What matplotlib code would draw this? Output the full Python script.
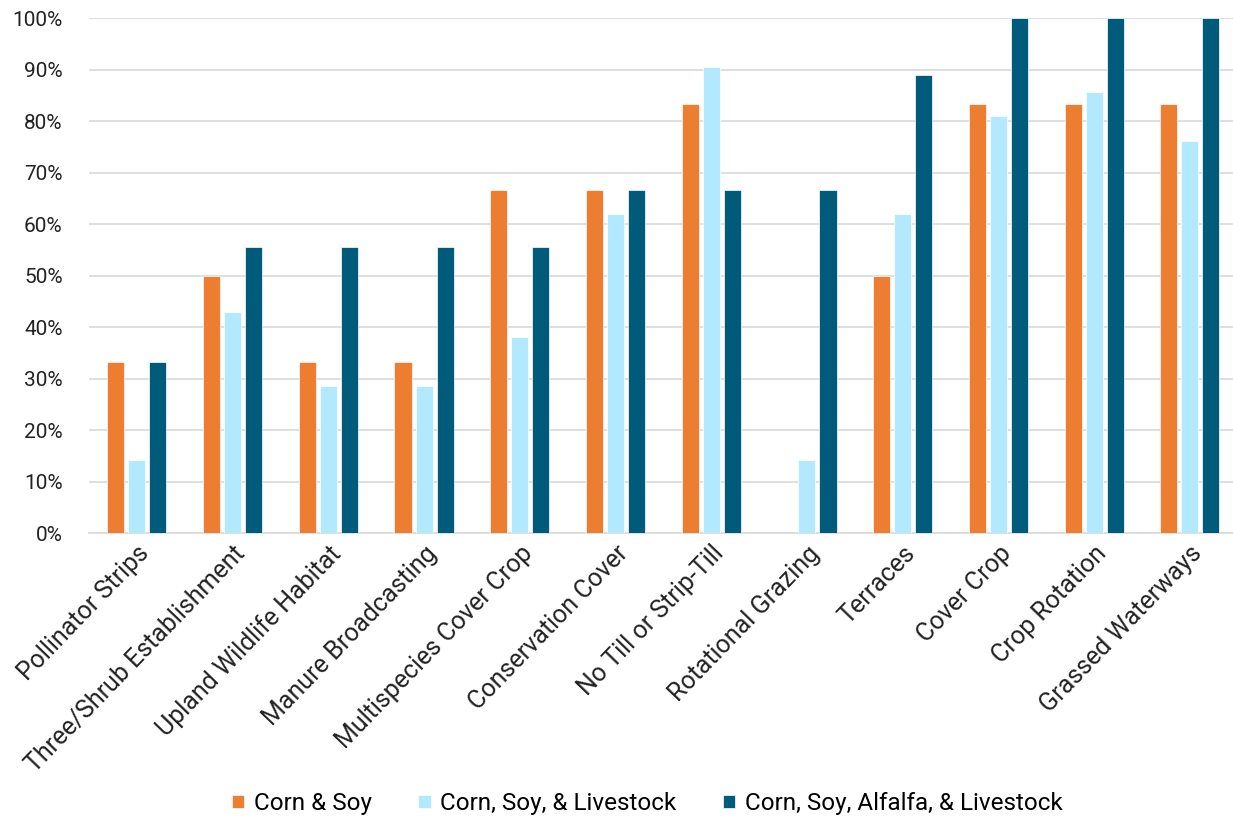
import matplotlib.pyplot as plt
import numpy as np
from matplotlib.ticker import PercentFormatter

plt.rcParams['font.family'] = ['Roboto', 'DejaVu Sans']

practices = ['Pollinator Strips', 'Three/Shrub Establishment', 'Upland Wildlife Habitat',
             'Manure Broadcasting', 'Multispecies Cover Crop', 'Conservation Cover',
             'No Till or Strip-Till', 'Rotational Grazing', 'Terraces', 'Cover Crop',
             'Crop Rotation', 'Grassed Waterways']

corn_soy = [33.3, 50.0, 33.3, 33.3, 66.7, 66.7, 83.3, 0.0, 50.0, 83.3, 83.3, 83.3]
corn_soy_livestock = [14.3, 42.9, 28.6, 28.6, 38.1, 61.9, 90.5, 14.3, 61.9, 81.0, 85.7, 76.2]
corn_soy_alfalfa_livestock = [33.3, 55.6, 55.6, 55.6, 55.6, 66.7, 66.7, 66.7, 88.9, 100.0, 100.0, 100.0]

series = [
    ('Corn & Soy', corn_soy, '#ED7D31'),
    ('Corn, Soy, & Livestock', corn_soy_livestock, '#B3E9FF'),
    ('Corn, Soy, Alfalfa, & Livestock', corn_soy_alfalfa_livestock, '#005A7A'),
]

fig = plt.figure(figsize=(12.33, 8.19), dpi=100)
ax = fig.add_axes([0.0722, 0.349, 0.9316, 0.629])

x = np.arange(len(practices))
width = 0.178
offset = 0.22
for i, (name, vals, color) in enumerate(series):
    ax.bar(x + (i - 1) * offset, vals, width, color=color, label=name,
           edgecolor='white', linewidth=0.5, zorder=3)

ax.set_xlim(-0.5, len(practices) - 0.5)
ax.set_ylim(0, 100)
ax.set_yticks(np.arange(0, 101, 10))
ax.yaxis.set_major_formatter(PercentFormatter(decimals=0))
ax.grid(axis='y', color='#D9D9D9', linewidth=1.2, zorder=0)

for side in ['top', 'right', 'left']:
    ax.spines[side].set_visible(False)
ax.spines['bottom'].set_color('#D9D9D9')
ax.spines['bottom'].set_linewidth(1.2)

ax.set_xticks(x)
ax.set_xticklabels(practices, rotation=46, ha='right', rotation_mode='anchor', fontsize=18, color='#222222')
ax.tick_params(axis='x', length=0, pad=6)
ax.tick_params(axis='y', length=0, labelsize=15, labelcolor='#222222', pad=19)

fig.legend(loc='lower center', bbox_to_anchor=(0.525, -0.022), ncol=3, frameon=False,
           fontsize=17.5, handlelength=0.5, handleheight=0.5, columnspacing=1.9, handletextpad=0.4)

fig.savefig('out.png', dpi=100)
